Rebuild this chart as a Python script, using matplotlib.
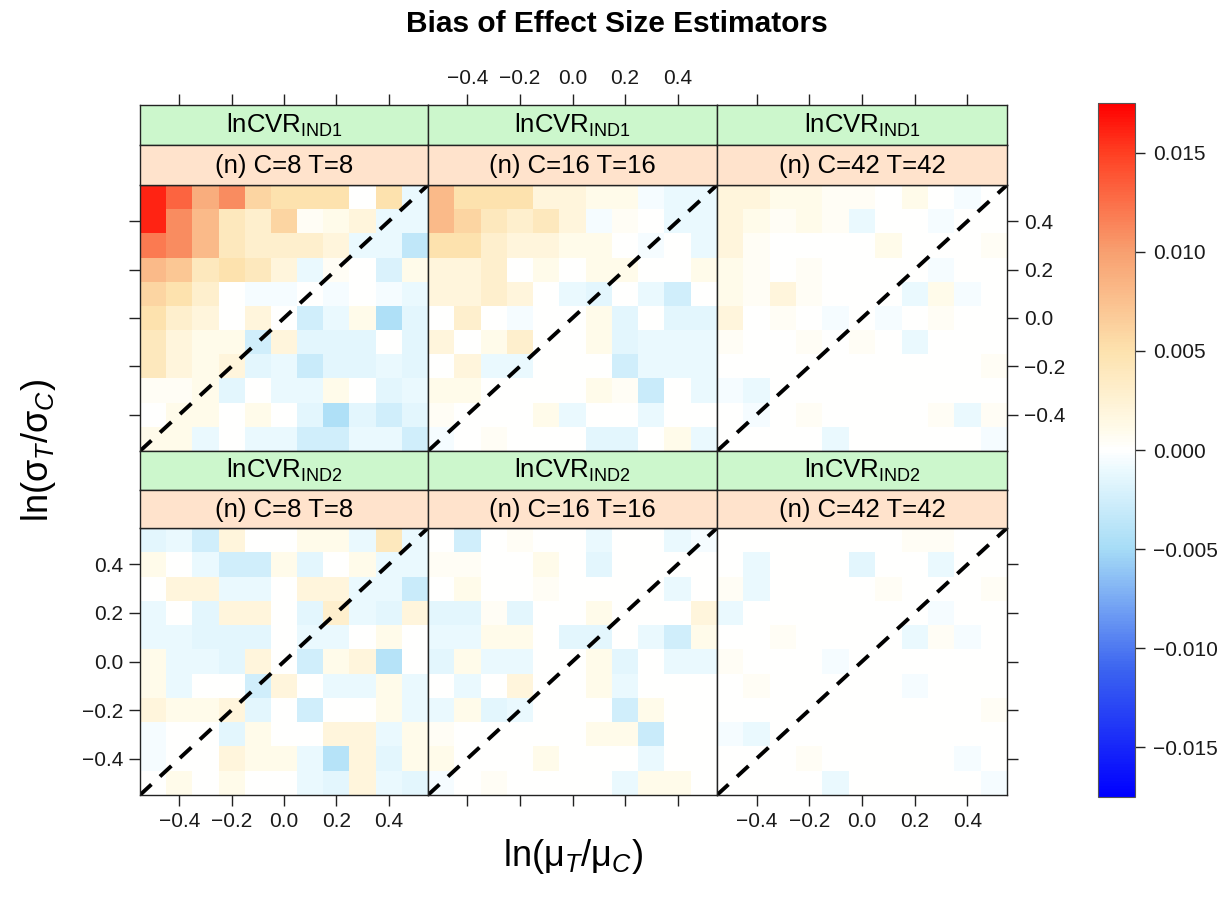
import numpy as np
import matplotlib
matplotlib.use("Agg")
import matplotlib.pyplot as plt
from matplotlib.colors import LinearSegmentedColormap, Normalize
from matplotlib.ticker import FuncFormatter

plt.rcParams['font.family'] = ['Liberation Sans', 'DejaVu Sans']
plt.rcParams['mathtext.fontset'] = 'custom'
plt.rcParams['mathtext.rm'] = 'Liberation Sans'
plt.rcParams['mathtext.it'] = 'Liberation Sans:italic'

# ---------------- data ----------------
mu_ratio = [-0.5, -0.4, -0.3, -0.2, -0.1, 0.0, 0.1, 0.2, 0.3, 0.4, 0.5]      # x (columns)
sd_ratio = [0.5, 0.4, 0.3, 0.2, 0.1, 0.0, -0.1, -0.2, -0.3, -0.4, -0.5]      # y (rows, top to bottom)
estimators = ["IND1", "IND2"]
sample_sizes = [(8, 8), (16, 16), (42, 42)]

bias_ind1_n8 = [
    [0.016, 0.013, 0.009, 0.011, 0.006, 0.005, 0.005, 0.005, 0.000, 0.005, -0.001],
    [0.016, 0.011, 0.008, 0.004, 0.003, 0.006, 0.0005, 0.001, 0.002, -0.001, -0.001],
    [0.012, 0.011, 0.008, 0.004, 0.003, 0.003, 0.003, 0.002, -0.001, -0.001, -0.0035],
    [0.008, 0.007, 0.004, 0.005, 0.004, 0.002, -0.001, 0.0005, 0.000, -0.002, 0.001],
    [0.006, 0.005, 0.003, 0.000, -0.0005, -0.0005, 0.000, -0.0005, 0.000, -0.0005, -0.001],
    [0.005, 0.003, 0.002, 0.000, 0.002, 0.000, -0.0025, -0.001, 0.001, -0.0045, -0.0015],
    [0.004, 0.002, 0.001, 0.001, -0.0025, 0.002, -0.0015, -0.0015, -0.0015, 0.000, -0.0015],
    [0.004, 0.002, 0.001, 0.002, -0.0015, -0.001, -0.003, -0.0015, -0.0015, -0.001, -0.0015],
    [0.0005, 0.0005, 0.001, -0.0015, 0.000, -0.001, -0.001, 0.001, 0.000, -0.0015, -0.001],
    [0.000, 0.001, 0.001, 0.000, 0.001, 0.000, -0.0015, -0.0045, -0.0015, -0.0025, -0.0015],
    [0.001, 0.001, -0.001, 0.000, -0.001, -0.001, -0.0025, -0.0025, -0.001, -0.001, -0.0025],
]
bias_ind1_n16 = [
    [0.008, 0.005, 0.005, 0.005, 0.002, 0.002, 0.001, 0.001, -0.0005, -0.001, -0.001],
    [0.008, 0.006, 0.004, 0.003, 0.004, 0.002, -0.0005, 0.0005, 0.000, -0.001, -0.001],
    [0.005, 0.005, 0.003, 0.002, 0.002, 0.001, 0.001, 0.000, -0.0005, 0.000, -0.001],
    [0.002, 0.002, 0.003, 0.000, 0.001, 0.000, 0.001, 0.001, 0.000, 0.000, 0.001],
    [0.002, 0.002, 0.003, 0.002, 0.000, -0.001, -0.0015, 0.000, -0.001, -0.0025, 0.000],
    [0.000, 0.003, 0.000, -0.0005, 0.000, 0.000, 0.001, -0.0015, 0.000, -0.0015, -0.0015],
    [0.002, 0.000, 0.001, 0.003, 0.000, 0.000, 0.001, -0.0015, -0.001, -0.001, -0.001],
    [0.000, 0.002, -0.001, -0.001, 0.000, 0.000, 0.000, -0.0025, -0.001, -0.001, -0.001],
    [0.001, 0.001, 0.000, 0.000, 0.000, 0.000, 0.001, 0.0005, -0.003, 0.000, -0.001],
    [0.0005, 0.000, 0.000, 0.000, 0.001, -0.001, 0.000, 0.000, -0.001, 0.000, 0.000],
    [-0.0005, 0.000, 0.0005, 0.000, 0.000, 0.000, -0.0015, -0.0015, 0.000, 0.001, -0.001],
]
bias_ind1_n42 = [
    [0.002, 0.002, 0.001, 0.001, 0.0005, 0.0005, 0.000, 0.001, 0.000, -0.0005, 0.000],
    [0.002, 0.001, 0.0005, 0.001, 0.0005, -0.001, 0.000, 0.000, -0.0005, 0.000, 0.000],
    [0.002, 0.0005, 0.000, 0.000, 0.000, 0.000, 0.001, 0.000, 0.000, 0.000, 0.0005],
    [0.001, 0.0005, 0.000, 0.0005, 0.000, 0.000, 0.000, 0.000, -0.0005, 0.000, 0.000],
    [0.001, 0.0005, 0.002, 0.0005, 0.000, 0.000, 0.000, -0.001, 0.001, -0.0005, 0.000],
    [0.002, 0.000, 0.0005, 0.000, -0.0005, 0.000, -0.0005, 0.000, 0.0005, 0.000, 0.000],
    [0.0005, 0.000, 0.000, 0.0005, 0.000, 0.0005, 0.000, -0.001, 0.000, 0.000, 0.000],
    [0.000, 0.000, 0.000, 0.000, 0.000, 0.000, 0.000, 0.000, 0.000, 0.000, 0.0005],
    [-0.0005, -0.001, 0.000, 0.000, 0.000, 0.000, 0.000, 0.000, 0.000, 0.000, 0.000],
    [0.000, -0.0005, 0.000, 0.0005, 0.000, 0.000, 0.000, 0.000, 0.0005, -0.001, 0.0005],
    [0.000, 0.000, 0.000, 0.000, -0.001, 0.000, 0.000, 0.000, 0.000, 0.000, -0.0005],
]
bias_ind2_n8 = [
    [-0.0015, -0.001, -0.0025, 0.002, 0.000, 0.000, 0.001, 0.001, -0.001, 0.004, -0.001],
    [0.001, 0.000, -0.001, -0.0025, -0.0025, 0.001, -0.0015, 0.000, 0.001, -0.001, -0.001],
    [0.000, 0.002, 0.002, -0.001, -0.001, 0.000, 0.002, 0.002, -0.001, -0.001, -0.003],
    [-0.001, 0.000, -0.0015, 0.002, 0.002, 0.000, -0.0015, 0.003, -0.001, -0.0015, 0.002],
    [-0.001, -0.001, -0.0015, -0.0015, -0.0015, 0.000, -0.001, -0.001, 0.000, 0.001, 0.000],
    [0.001, -0.001, -0.001, -0.0015, 0.002, 0.000, -0.0025, 0.001, 0.002, -0.004, 0.000],
    [0.001, -0.001, 0.000, 0.000, -0.0025, 0.002, 0.000, -0.001, -0.001, 0.001, -0.001],
    [0.002, 0.001, 0.001, 0.002, -0.0015, 0.000, -0.0025, 0.000, 0.000, 0.001, -0.001],
    [-0.0005, 0.000, 0.000, -0.0015, 0.001, 0.000, 0.000, 0.002, 0.002, -0.001, 0.001],
    [-0.0005, 0.000, 0.000, 0.002, 0.001, 0.001, -0.001, -0.004, 0.002, -0.0015, 0.001],
    [0.000, 0.001, 0.000, 0.001, 0.000, 0.000, -0.001, -0.0015, 0.002, -0.001, -0.0015],
]
bias_ind2_n16 = [
    [0.000, -0.0025, 0.000, 0.0005, 0.000, 0.000, -0.001, 0.000, 0.000, -0.001, -0.0005],
    [0.0005, 0.0005, 0.000, 0.000, 0.001, 0.000, -0.0015, 0.000, 0.000, 0.000, 0.000],
    [0.000, 0.001, 0.000, 0.000, 0.0005, 0.000, 0.000, 0.000, 0.000, -0.001, 0.000],
    [-0.0015, -0.0015, 0.0005, -0.0015, 0.000, 0.000, 0.001, 0.000, 0.000, 0.000, 0.002],
    [-0.001, -0.001, 0.001, 0.001, 0.000, -0.0015, -0.0015, 0.000, -0.001, -0.0025, 0.001],
    [-0.0015, 0.001, -0.001, -0.001, 0.000, 0.000, 0.001, -0.0015, 0.000, -0.001, -0.001],
    [0.000, -0.001, 0.000, 0.002, 0.000, 0.000, 0.001, -0.001, 0.000, 0.000, 0.000],
    [-0.001, 0.001, -0.0015, -0.001, 0.000, 0.000, 0.000, -0.0025, 0.001, 0.000, 0.000],
    [0.0005, 0.000, 0.000, 0.000, 0.000, 0.000, 0.001, 0.001, -0.003, 0.000, 0.000],
    [0.001, 0.000, 0.000, 0.000, 0.001, 0.000, 0.000, 0.000, -0.001, 0.000, 0.000],
    [-0.0005, 0.000, 0.0005, 0.000, 0.000, 0.000, 0.000, -0.001, 0.001, 0.001, 0.000],
]
bias_ind2_n42 = [
    [0.000, 0.000, 0.000, 0.000, 0.000, 0.000, 0.000, 0.0005, 0.0005, 0.000, 0.000],
    [0.000, -0.001, 0.000, 0.000, 0.000, -0.0015, 0.000, 0.000, -0.001, 0.000, 0.000],
    [0.0005, -0.001, 0.000, 0.000, 0.000, 0.000, 0.0005, 0.000, 0.000, 0.000, 0.0005],
    [-0.001, 0.000, 0.000, 0.000, 0.000, 0.000, 0.000, 0.000, -0.0005, 0.000, 0.000],
    [0.000, 0.000, 0.0005, 0.000, 0.000, 0.000, 0.000, -0.001, 0.0005, -0.0005, 0.000],
    [0.0005, 0.000, 0.000, 0.000, -0.0005, 0.000, 0.000, 0.000, 0.000, 0.000, 0.000],
    [0.000, 0.0005, 0.000, 0.000, 0.000, 0.000, 0.000, -0.0005, 0.000, 0.000, 0.000],
    [0.000, 0.000, 0.000, 0.000, 0.000, 0.000, 0.000, 0.000, 0.000, 0.000, 0.0005],
    [-0.0005, -0.001, 0.000, 0.000, 0.000, 0.000, 0.000, 0.000, 0.000, 0.000, 0.000],
    [0.000, 0.000, 0.000, 0.0005, 0.000, 0.000, 0.000, 0.000, 0.000, -0.0005, 0.000],
    [0.000, 0.000, 0.000, 0.000, -0.001, 0.000, 0.000, 0.000, 0.000, 0.000, -0.0005],
]
panel_data = [[bias_ind1_n8, bias_ind1_n16, bias_ind1_n42],
              [bias_ind2_n8, bias_ind2_n16, bias_ind2_n42]]

axis_ticks = [-0.4, -0.2, 0.0, 0.2, 0.4]
cbar_ticks = [-0.015, -0.010, -0.005, 0.0, 0.005, 0.010, 0.015]
zlim = 0.0175

# ---------------- style ----------------
W, H = 1227, 900
fig = plt.figure(figsize=(W / 100, H / 100), dpi=100)

def px(x0, y0, x1, y1):
    return [x0 / W, 1 - y1 / H, (x1 - x0) / W, (y1 - y0) / H]

cmap = LinearSegmentedColormap.from_list("bias", [
    (0.0, "#0000FF"), (0.18, "#3A62F0"), (0.357, "#A6DCF6"), (0.47, "#EAF9FE"),
    (0.5, "#FFFFFF"), (0.53, "#FFFBEA"), (0.643, "#FDE2AE"), (0.786, "#F8A070"),
    (0.93, "#FF3F22"), (1.0, "#FF0000")])
norm = Normalize(vmin=-zlim, vmax=zlim)

col_x = [140, 428, 717, 1007]
rows_y = [(105, 145, 185, 451), (451, 490, 528, 795)]  # green top, peach top, data top, data bottom
green = "#CCF7CC"
peach = "#FFE3CC"
edge = "#222222"
tick_fs = 15
tick_len = 8

def centers_to_edges(c):
    c = np.asarray(c, dtype=float)
    mid = (c[:-1] + c[1:]) / 2
    step0 = c[1] - c[0]
    step1 = c[-1] - c[-2]
    return np.concatenate([[c[0] - step0 / 2], mid, [c[-1] + step1 / 2]])

xe = centers_to_edges(mu_ratio)
ye_sorted = centers_to_edges(sorted(sd_ratio))
lo, hi = xe[0], xe[-1]

fmt = FuncFormatter(lambda v, p: f"{v:.1f}".replace("-", "\u2212") if abs(v) > 1e-9 else "0.0")

mappable = None
for r in range(2):
    g0, p0, d0, d1 = rows_y[r]
    for c in range(3):
        x0, x1 = col_x[c], col_x[c + 1]
        # data panel
        ax = fig.add_axes(px(x0, d0, x1, d1))
        z = np.asarray(panel_data[r][c], dtype=float)[::-1]  # bottom row first
        mappable = ax.pcolormesh(xe, ye_sorted, z, cmap=cmap, norm=norm, shading="flat")
        ax.plot([lo, hi], [lo, hi], color="black", lw=2.8, linestyle=(0, (4, 3.0)))
        ax.set_xlim(lo, hi)
        ax.set_ylim(lo, hi)
        for s in ax.spines.values():
            s.set_color(edge)
            s.set_linewidth(1.0)
        ax.set_xticks(axis_ticks)
        ax.set_yticks(axis_ticks)
        ax.tick_params(direction="out", length=tick_len, width=1, color=edge,
                       labelsize=tick_fs, pad=4, labelcolor="#1a1a1a",
                       bottom=False, top=False, left=False, right=False,
                       labelbottom=False, labeltop=False, labelleft=False, labelright=False)
        ax.xaxis.set_major_formatter(fmt)
        ax.yaxis.set_major_formatter(fmt)
        if r == 1:
            ax.tick_params(bottom=True, labelbottom=(c != 1))
        if c == 0:
            ax.tick_params(left=True, labelleft=(r == 1))
        if c == 2:
            ax.tick_params(right=True, labelright=(r == 0))

        # strips
        sg = fig.add_axes(px(x0, g0, x1, p0))
        sp = fig.add_axes(px(x0, p0, x1, d0))
        for sax, colr in ((sg, green), (sp, peach)):
            sax.set_facecolor(colr)
            sax.set_xlim(lo, hi)
            sax.set_ylim(0, 1)
            sax.set_yticks([])
            sax.set_xticks([])
            for s in sax.spines.values():
                s.set_color(edge)
                s.set_linewidth(1.0)
        sg.text(0, 0.5, r"lnCVR$_{\mathrm{" + estimators[r] + "}}$", ha="center", va="center",
                fontsize=18.5)
        nC, nT = sample_sizes[c]
        sp.text(0, 0.48, f"(n) C={nC} T={nT}", ha="center", va="center", fontsize=18.5)
        if r == 0:
            sg.set_xticks(axis_ticks)
            sg.xaxis.set_major_formatter(fmt)
            sg.tick_params(axis="x", direction="out", length=tick_len, width=1, color=edge,
                           labelsize=tick_fs, pad=4, labelcolor="#1a1a1a",
                           bottom=False, labelbottom=False,
                           top=True, labeltop=(c == 1))

# colorbar
cax = fig.add_axes(px(1098, 103, 1135, 797))
cb = fig.colorbar(mappable, cax=cax, ticks=cbar_ticks)
cb.outline.set_edgecolor("#555555")
cb.outline.set_linewidth(0.8)
cb.ax.yaxis.set_major_formatter(FuncFormatter(
    lambda v, p: f"{v:.3f}".replace("-", "\u2212") if abs(v) > 1e-9 else "0.000"))
cb.ax.tick_params(labelsize=tick_fs, length=7, width=1, color=edge, pad=6, labelcolor="#1a1a1a")

# titles
fig.text(617 / W, 1 - 24 / H, "Bias of Effect Size Estimators", ha="center", va="center",
         fontsize=21.5, fontweight="bold")
fig.text(573 / W, 1 - 857 / H, "ln(\u03bc$_{T}$/\u03bc$_{C}$)", ha="center", va="center", fontsize=26)
fig.text(38 / W, 1 - 450 / H, "ln(\u03c3$_{T}$/\u03c3$_{C}$)", ha="center", va="center",
         fontsize=26, rotation=90)

fig.savefig("out.png", dpi=100)
